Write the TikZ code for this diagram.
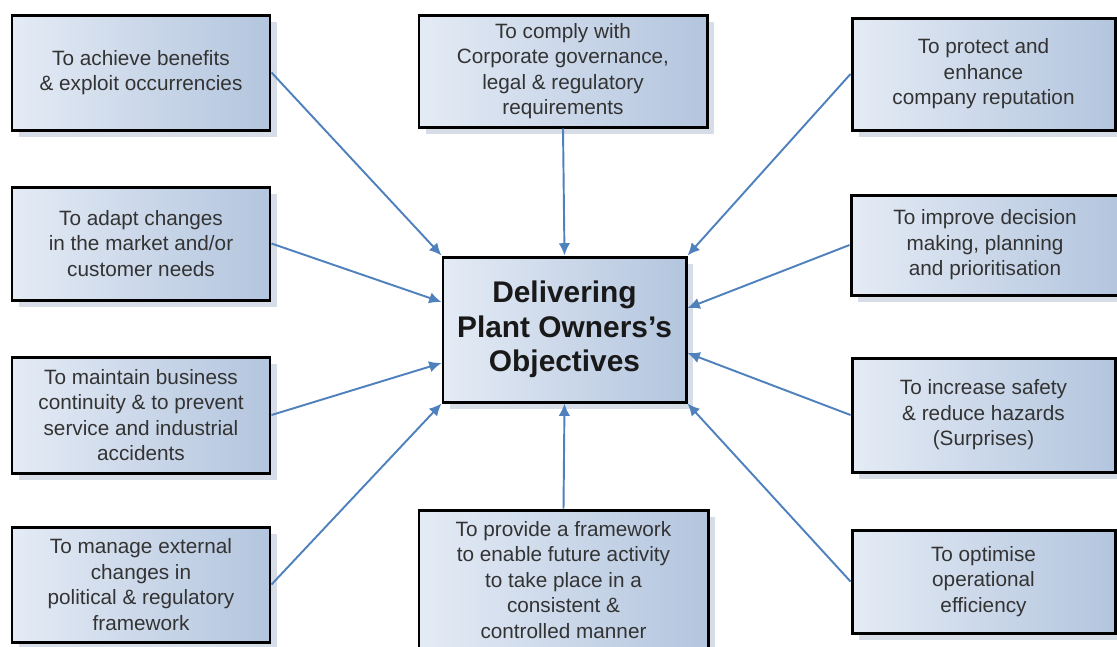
\documentclass[tikz,border=0pt]{standalone}
\usepackage{fontspec}
\setmainfont{Liberation Sans}
\usepackage{xcolor}
\usetikzlibrary{arrows.meta,shadows}

\definecolor{boxlight}{HTML}{E4EBF5}
\definecolor{boxdark}{HTML}{B3C5DE}
\definecolor{linkblue}{HTML}{4F81BD}
\definecolor{textgray}{HTML}{333333}
\definecolor{shadegray}{HTML}{CDD4E0}

\begin{document}
\begin{tikzpicture}[
    aim/.style={draw=black, line width=1.7pt, left color=boxlight, right color=boxdark,
        drop shadow={shadow xshift=4pt, shadow yshift=-4pt, fill=shadegray, opacity=0.8},
        align=center, text=textgray, font=\fontsize{11.8}{14.5}\selectfont,
        minimum width=5.16cm, minimum height=2.3cm, inner sep=2pt},
    goal/.style={aim, text=black!90, font=\bfseries\fontsize{17}{19.5}\selectfont},
    link/.style={-{Latex[length=7pt,width=6.5pt]}, linkblue, line width=1.1pt}
]
    \useasboundingbox (0,0) rectangle (22.34,-12.92);

    \node[goal, minimum width=4.86cm, minimum height=2.9cm] (objectives) at (11.29,-6.59) {Delivering\\ Plant Owners's\\ Objectives};

    \node[aim] (benefits) at (2.82,-1.45) {To achieve benefits\\ \& exploit occurrencies};
    \node[aim, minimum height=2.26cm] (market) at (2.82,-4.87) {To adapt changes\\ in the market and/or\\ customer needs};
    \node[aim, minimum height=2.32cm] (continuity) at (2.82,-8.3) {To maintain business\\ continuity \& to prevent\\ service and industrial\\ accidents};
    \node[aim] (external) at (2.82,-11.69) {To manage external\\ changes in\\ political \& regulatory\\ framework};

    \node[aim, minimum width=5.76cm, minimum height=2.24cm] (comply) at (11.26,-1.42) {To comply with\\ Corporate governance,\\ legal \& regulatory\\ requirements};
    \node[aim, minimum width=5.78cm, minimum height=2.8cm] (framework) at (11.27,-11.6) {To provide a framework\\ to enable future activity\\ to take place in a\\ consistent \&\\ controlled manner};

    \node[aim, minimum width=5.26cm, minimum height=2.24cm] (reputation) at (19.67,-1.48) {To protect and\\ enhance\\ company reputation};
    \node[aim, minimum width=5.36cm, minimum height=2.0cm] (decision) at (19.7,-4.9) {To improve decision\\ making, planning\\ and prioritisation};
    \node[aim, minimum width=5.26cm, minimum height=2.28cm] (safety) at (19.67,-8.3) {To increase safety\\ \& reduce hazards\\ (Surprises)};
    \node[aim, minimum width=5.26cm, minimum height=2.06cm] (efficiency) at (19.67,-11.63) {To optimise\\ operational\\ efficiency};

    \draw[link] (benefits.east) -- (objectives.north west);
    \draw[link] (market.east) -- ([yshift=0.55cm]objectives.west);
    \draw[link] (continuity.east) -- ([yshift=-0.67cm]objectives.west);
    \draw[link] (external.east) -- (objectives.south west);
    \draw[link] (comply.south) -- (objectives.north);
    \draw[link] (framework.north) -- (objectives.south);
    \draw[link] (reputation.west) -- (objectives.north east);
    \draw[link] (decision.west) -- ([yshift=0.43cm]objectives.east);
    \draw[link] (safety.west) -- ([yshift=-0.47cm]objectives.east);
    \draw[link] (efficiency.west) -- (objectives.south east);
\end{tikzpicture}
\end{document}
